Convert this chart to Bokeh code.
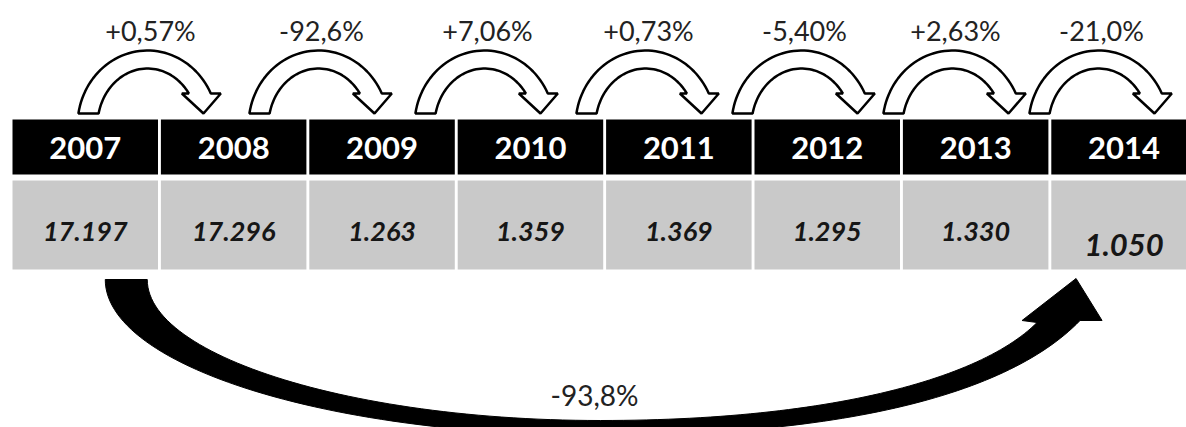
import numpy as np
from bokeh.plotting import figure
from bokeh.models import Range1d
from bokeh.core.properties import value
from bokeh.embed import file_html
from bokeh.resources import INLINE

# ---- data ----
years = ["2007", "2008", "2009", "2010", "2011", "2012", "2013", "2014"]
values = ["17.197", "17.296", "1.263", "1.359", "1.369", "1.295", "1.330", "1.050"]
step_changes = ["+0,57%", "-92,6%", "+7,06%", "+0,73%", "-5,40%", "+2,63%", "-21,0%"]
total_change = "-93,8%"

W, H = 1186, 427
p = figure(width=W, height=H, x_range=Range1d(0, W), y_range=Range1d(H, 0),
           output_backend="svg", toolbar_location=None, min_border=0,
           x_axis_location=None, y_axis_location=None)
p.grid.visible = False
p.outline_line_color = None
p.background_fill_color = "white"
p.border_fill_color = "white"

FONT = value("Lato")
n = len(years)
idx = np.arange(n)
col_w = 148.4
left = 12 + col_w * idx
right = left + 145.5
centers = (left + right) / 2

# header (black) and value (gray) rows
p.quad(left=left, right=right, top=119, bottom=174, fill_color="black", line_color=None)
p.quad(left=left, right=right, top=180, bottom=269, fill_color="#c9c9c9", line_color=None)

p.text(x=centers, y=[147] * n, text=years, text_color="white", text_font=FONT,
       text_font_style="bold", text_font_size="31px", text_align="center",
       text_baseline="middle")

p.text(x=centers[:-1], y=[231] * (n - 1), text=values[:-1], text_color="#161616",
       text_font=FONT, text_font_style="bold italic", text_font_size="27px",
       text_align="center", text_baseline="middle")
p.text(x=centers[-1:], y=[244], text=values[-1:], text_color="#161616",
       text_font=FONT, text_font_style="bold italic", text_font_size="31px",
       text_align="center", text_baseline="middle")

# ---- hollow step arrows ----
def hollow_arrow(x0):
    cx, cy = x0 + 69, 125.0
    rox, roy = 70.0, 75.0
    rix, riy = 50.0, 57.0
    base_y, end_y = 113.0, 93.0
    a0 = np.pi - np.arcsin((cy - base_y) / roy)
    a1 = np.arcsin((cy - end_y) / roy)
    th = np.linspace(a0, a1, 50)
    ox = cx + rox * np.cos(th)
    oy = cy - roy * np.sin(th)
    b0 = np.pi - np.arcsin((cy - base_y) / riy)
    b1 = np.arcsin((cy - end_y) / riy)
    th2 = np.linspace(b1, b0, 50)
    ix = cx + rix * np.cos(th2)
    iy = cy - riy * np.sin(th2)
    hx = [ox[-1] + 10, cx + 56, ix[0] - 7]
    hy = [end_y, base_y, end_y]
    xs = list(ox) + hx + list(ix)
    ys = list(oy) + hy + list(iy)
    return xs, ys

m = len(step_changes)
ax0 = [78 + 171 * i - 2.5 * i * (i - 1) for i in range(m)]
axs, ays = [], []
for x0 in ax0:
    xs, ys = hollow_arrow(x0)
    axs.append(xs)
    ays.append(ys)
p.patches(xs=axs, ys=ays, fill_color="white", line_color="black", line_width=2.5)

p.text(x=[x0 + 72 for x0 in ax0], y=[30] * m, text=step_changes, text_color="#222222",
       text_font=FONT, text_font_size="27px", text_align="center",
       text_baseline="middle")

# ---- big curved total arrow ----
def bez(P0, P1, P2, P3, k=60):
    t = np.linspace(0, 1, k)[:, None]
    P0, P1, P2, P3 = map(np.array, (P0, P1, P2, P3))
    return (1 - t) ** 3 * P0 + 3 * (1 - t) ** 2 * t * P1 + 3 * (1 - t) * t ** 2 * P2 + t ** 3 * P3

c0, c7 = centers[0], centers[-1]
o1 = bez((c0 + 20, 279), (c0 + 20, 365), (327, 435), (600, 435))
o2 = bez((600, 435), (850, 435), (1010, 392), (c7 - 44, 320))
i2 = bez((600, 420), (830, 420), (981, 378), (c7 - 87, 322))[::-1]
i1 = bez((c0 + 62, 279), (c0 + 62, 355), (350, 420), (600, 420))[::-1]
head = np.array([[c7 - 22, 320], [c7 - 48, 278], [c7 - 102, 320]])
big = np.vstack([o1, o2, head, i2, i1])
p.patch(x=big[:, 0], y=big[:, 1], fill_color="black", line_color="black", line_width=1)

p.text(x=[594], y=[394], text=[total_change], text_color="#222222", text_font=FONT,
       text_font_size="28px", text_align="center", text_baseline="middle")

open("out.html", "w").write(file_html(p, INLINE))
